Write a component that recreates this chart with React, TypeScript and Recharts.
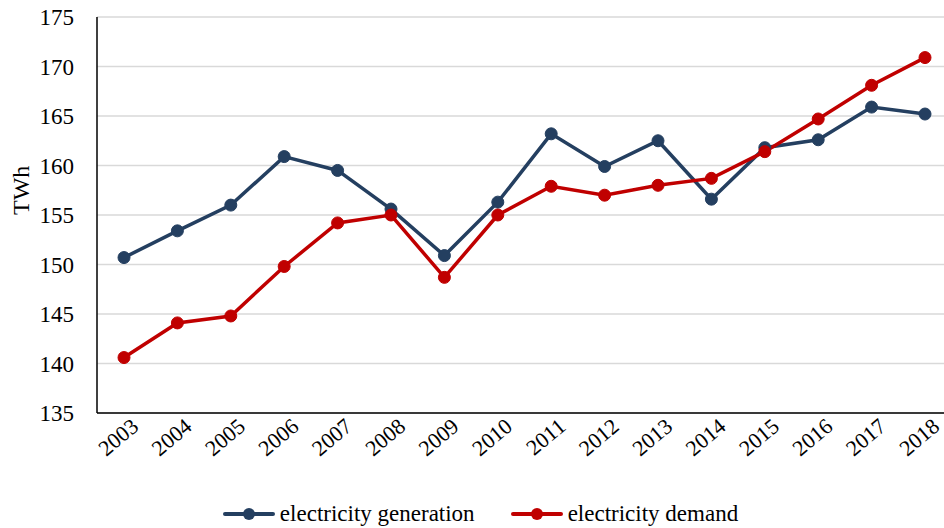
import { LineChart, Line, XAxis, YAxis, CartesianGrid, Legend } from 'recharts'

const years = ['2003', '2004', '2005', '2006', '2007', '2008', '2009', '2010', '2011', '2012', '2013', '2014', '2015', '2016', '2017', '2018']
const generation = [150.7, 153.4, 156.0, 160.9, 159.5, 155.6, 150.9, 156.3, 163.2, 159.9, 162.5, 156.6, 161.8, 162.6, 165.9, 165.2]
const demand = [140.6, 144.1, 144.8, 149.8, 154.2, 155.0, 148.7, 155.0, 157.9, 157.0, 158.0, 158.7, 161.4, 164.7, 168.1, 170.9]
const yTicks = [135, 140, 145, 150, 155, 160, 165, 170, 175]

const data = years.map((year, i) => ({ year, generation: generation[i], demand: demand[i] }))

const FONT = 'Times New Roman, Liberation Serif, DejaVu Serif, serif'
const BLUE = '#243f60'
const RED = '#c00000'

const series = [
  { key: 'generation', name: 'electricity generation', color: BLUE },
  { key: 'demand', name: 'electricity demand', color: RED },
]

function YearTick(props: any) {
  const { x, y, payload } = props
  return (
    <g transform={`translate(${x + 12},${y + 3})`}>
      <text textAnchor="end" transform="rotate(-40)" fontSize={22} fontFamily={FONT} fill="#000" dy={6}>
        {payload.value}
      </text>
    </g>
  )
}

function LegendBox() {
  return (
    <div style={{ display: 'flex', justifyContent: 'center', height: 40, alignItems: 'center', fontFamily: FONT, fontSize: 23, paddingTop: 12, paddingLeft: 9, boxSizing: 'border-box' }}>
      {series.map((s, i) => (
        <div key={s.key} style={{ display: 'flex', alignItems: 'center', marginLeft: i === 0 ? 0 : 36 }}>
          <svg width={52} height={14}>
            <line x1={2} y1={7} x2={50} y2={7} stroke={s.color} strokeWidth={4} strokeLinecap="round" />
            <circle cx={26} cy={7} r={6} fill={s.color} />
          </svg>
          <span style={{ marginLeft: 5 }}>{s.name}</span>
        </div>
      ))}
    </div>
  )
}

export default function App() {
  return (
    <div style={{ position: 'absolute', left: 0, top: 0, width: 944, height: 528, overflow: 'hidden', background: '#fff' }}>
      <LineChart width={952} height={528} data={data} margin={{ top: 17, right: 0, bottom: 0, left: 0 }}>
        <CartesianGrid vertical={false} stroke="#d9d9d9" strokeWidth={1.5} />
        <XAxis
          dataKey="year"
          padding={{ left: 27, right: 27 }}
          height={75}
          tickLine={false}
          axisLine={{ stroke: '#000', strokeWidth: 1.5 }}
          tick={<YearTick />}
          interval={0}
        />
        <YAxis
          width={97}
          domain={[135, 175]}
          ticks={yTicks}
          tickLine={false}
          axisLine={{ stroke: '#000', strokeWidth: 1.5 }}
          tick={{ fontSize: 23, fontFamily: FONT, fill: '#000' }}
          tickMargin={17}
          label={{ value: 'TWh', angle: -90, position: 'insideLeft', offset: 20, fontSize: 24, fontFamily: FONT, fill: '#000' }}
        />
        <Legend verticalAlign="bottom" content={<LegendBox />} />
        {series.map((s) => (
          <Line
            key={s.key}
            dataKey={s.key}
            name={s.name}
            stroke={s.color}
            strokeWidth={3.5}
            dot={{ r: 6, fill: s.color, stroke: s.color, strokeWidth: 1 }}
            isAnimationActive={false}
          />
        ))}
      </LineChart>
    </div>
  )
}
